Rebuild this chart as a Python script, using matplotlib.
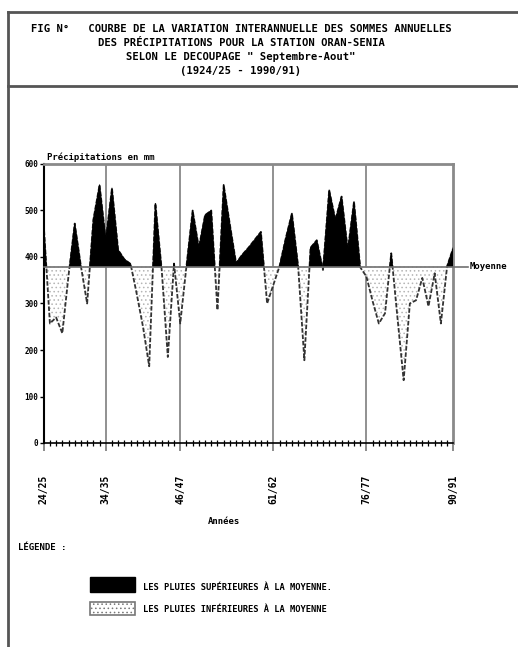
import numpy as np
import matplotlib.pyplot as plt
import matplotlib.transforms as mtrans
from matplotlib.patches import Rectangle
from matplotlib.lines import Line2D

# annual rainfall totals (mm), Sept-Aug years, 1924/25 .. 1990/91
first_year = 1924
precip = [470, 257, 270, 236, 360, 472, 380, 300, 480, 555,
          437, 548, 415, 395, 385, 320, 250, 165, 515, 375,
          185, 386, 257, 380, 500, 420, 490, 500, 286, 555,
          470, 387, 405, 420, 437, 454, 300, 340, 380, 440,
          494, 380, 178, 420, 436, 372, 544, 480, 530, 415,
          519, 378, 358, 305, 257, 279, 408, 270, 135, 300,
          307, 355, 294, 365, 257, 380, 420]
tick_years = [1924, 1934, 1946, 1961, 1976, 1990]
grid_years = [1934, 1946, 1961, 1976]
y_ticks = [0, 100, 200, 300, 400, 500, 600]

title_lines = ["FIG N°   COURBE DE LA VARIATION INTERANNUELLE DES SOMMES ANNUELLES",
               "DES PRÉCIPITATIONS POUR LA STATION ORAN-SENIA",
               'SELON LE DECOUPAGE " Septembre-Aout"',
               "(1924/25 - 1990/91)"]

plt.rcParams['font.family'] = ['DejaVu Sans Mono']
plt.rcParams['font.weight'] = 'bold'
plt.rcParams['hatch.linewidth'] = 0.6

W, H = 518, 647
fig = plt.figure(figsize=(W / 100, H / 100), dpi=100)

def fx(px):
    return px / W

def fy(py):
    return 1 - py / H

# page frame
fig.add_artist(Line2D([fx(8), fx(8)], [fy(12), 0], color='#555555', lw=2))
fig.add_artist(Line2D([fx(8), 1], [fy(12), fy(12)], color='#555555', lw=2))
fig.add_artist(Line2D([fx(8), 1], [fy(86), fy(86)], color='#555555', lw=2))

title_y = [29, 43, 57, 71]
for line, ty in zip(title_lines, title_y):
    fig.text(fx(241), fy(ty), line, ha='center', va='center', fontsize=7.6)

ax = fig.add_axes([fx(43.7), fy(443), 409.6 / W, 279 / H])
x = np.arange(len(precip))
v = np.array(precip, dtype=float)
mean = v.mean()

ax.fill_between(x, v, mean, where=v <= mean, interpolate=True,
                facecolor='white', hatch='....', edgecolor='#b5b5b5', lw=0, zorder=2)
ax.plot(x, v, color='#333333', lw=1.3, ls=(0, (2.5, 1)), zorder=2.5)
ax.fill_between(x, v, mean, where=v >= mean, interpolate=True,
                facecolor='black', edgecolor='black', lw=0.8, zorder=3)

trans = mtrans.blended_transform_factory(ax.transAxes, ax.transData)
ax.plot([0, 1.035], [mean, mean], color='#707070', lw=1.2, transform=trans,
        clip_on=False, zorder=4)
ax.text(1.04, mean, "Moyenne", transform=trans, fontsize=6.5, va='center', ha='left')

for gy in grid_years:
    ax.axvline(gy - first_year, color='#888888', lw=1.3, zorder=1)

ax.set_xlim(0, len(precip) - 1)
ax.set_ylim(0, 600)

ax.set_yticks(y_ticks)
ax.set_yticklabels([str(t) for t in y_ticks], fontsize=5.5)
ax.tick_params(axis='y', length=3, width=1, pad=1)

ax.set_xticks([ty - first_year for ty in tick_years])
ax.set_xticklabels([f"{ty % 100:02d}/{(ty + 1) % 100:02d}" for ty in tick_years],
                   rotation=90, fontsize=7, va='top')
ax.set_xticks(x, minor=True)
ax.tick_params(axis='x', which='major', length=6, width=1.2, color='#777777', pad=17)
ax.tick_params(axis='x', which='minor', direction='inout', length=4, width=0.9)

for side in ['top', 'right']:
    ax.spines[side].set_color('#8a8a8a')
    ax.spines[side].set_linewidth(2)
ax.spines['left'].set_linewidth(1.5)
ax.spines['bottom'].set_linewidth(1.2)

fig.text(fx(47), fy(157), "Précipitations en mm", fontsize=6.5, va='center')
fig.text(fx(224), fy(522), "Années", fontsize=6.5, ha='center', va='center')

# legend block
fig.text(fx(18), fy(548), "LÉGENDE :", fontsize=6.5, va='center')
fig.add_artist(Rectangle((fx(90), fy(592)), 45 / W, 15 / H, facecolor='black',
                         edgecolor='black', lw=1))
fig.add_artist(Rectangle((fx(90), fy(615)), 45 / W, 13 / H, facecolor='white',
                         edgecolor='#777777', hatch='....', lw=1.2))
fig.text(fx(143), fy(587), "LES PLUIES SUPÉRIEURES À LA MOYENNE.", fontsize=6.3, va='center')
fig.text(fx(143), fy(610), "LES PLUIES INFÉRIEURES À LA MOYENNE", fontsize=6.3, va='center')

fig.savefig("out.png", dpi=100)
